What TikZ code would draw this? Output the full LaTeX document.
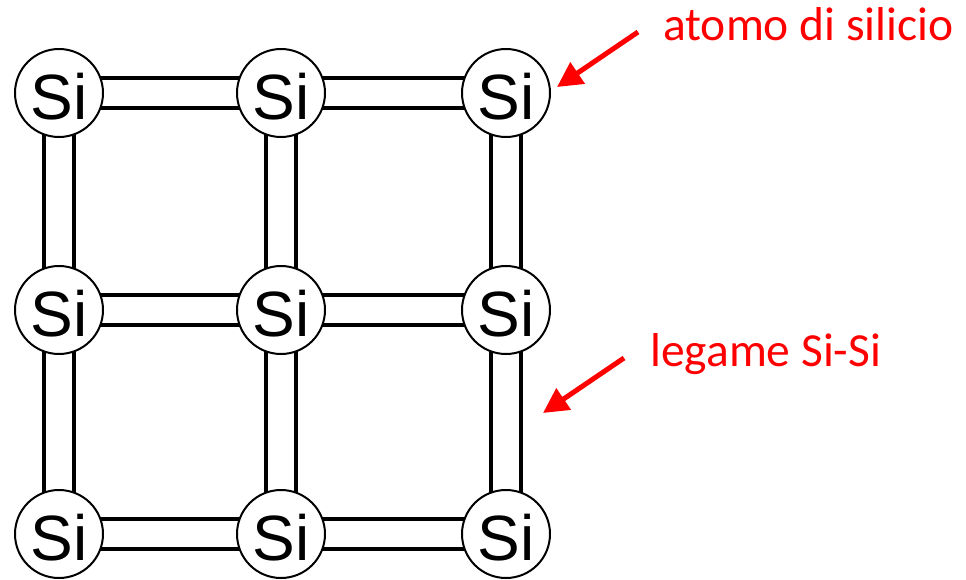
\documentclass[tikz,border=0pt]{standalone}
\usepackage{fontspec}
\setmainfont{Liberation Sans}
\newfontfamily\labelfont{Carlito}
\usetikzlibrary{arrows.meta,backgrounds}
% atom symbol, set a little below the geometric centre of its circle
\newcommand{\Sitext}{\raisebox{-4pt}[\height][\depth]{Si}}
\begin{document}
\begin{tikzpicture}[x=1pt,y=-1pt,
  atom/.style={circle, draw, line width=2pt, fill=white, minimum size=88pt,
    inner sep=0pt, font=\fontsize{64}{64}\selectfont},
  bond/.style={line width=4pt, double=white, double distance=26pt},
  note/.style={anchor=base west, text=red, inner sep=0pt,
    font=\labelfont\fontsize{47.5}{47.5}\selectfont},
  pointer/.style={draw=red, line width=5pt, -{Triangle[length=25pt,width=25pt]}}]
\useasboundingbox (0,0) rectangle (966,580);

% silicon atoms of the square lattice
\node[atom] (a11) at (59,93)  {\Sitext};
\node[atom] (a12) at (281,93) {\Sitext};
\node[atom] (a13) at (506,93) {\Sitext};
\node[atom] (a21) at (59,310)  {\Sitext};
\node[atom] (a22) at (281,310) {\Sitext};
\node[atom] (a23) at (506,310) {\Sitext};
\node[atom] (a31) at (59,534)  {\Sitext};
\node[atom] (a32) at (281,534) {\Sitext};
\node[atom] (a33) at (506,534) {\Sitext};

% covalent bonds as double lines, hidden under the atoms
\begin{scope}[on background layer]
  \foreach \r in {1,2,3} {
    \draw[bond] (a\r1.center) -- (a\r2.center);
    \draw[bond] (a\r2.center) -- (a\r3.center);
  }
  \foreach \c in {1,2,3} {
    \draw[bond] (a1\c.center) -- (a2\c.center);
    \draw[bond] (a2\c.center) -- (a3\c.center);
  }
\end{scope}

% annotations
\node[note] (atomlabel) at (663,41) {atomo di silicio};
\node[note] (bondlabel) at (650,366) {legame Si-Si};
\coordinate (atomfrom) at (638,32);
\coordinate (atomto) at (557,87);
\coordinate (bondfrom) at (624,358);
\coordinate (bondto) at (543,413);
\draw[pointer] (atomfrom) -- (atomto);
\draw[pointer] (bondfrom) -- (bondto);
\end{tikzpicture}
\end{document}
